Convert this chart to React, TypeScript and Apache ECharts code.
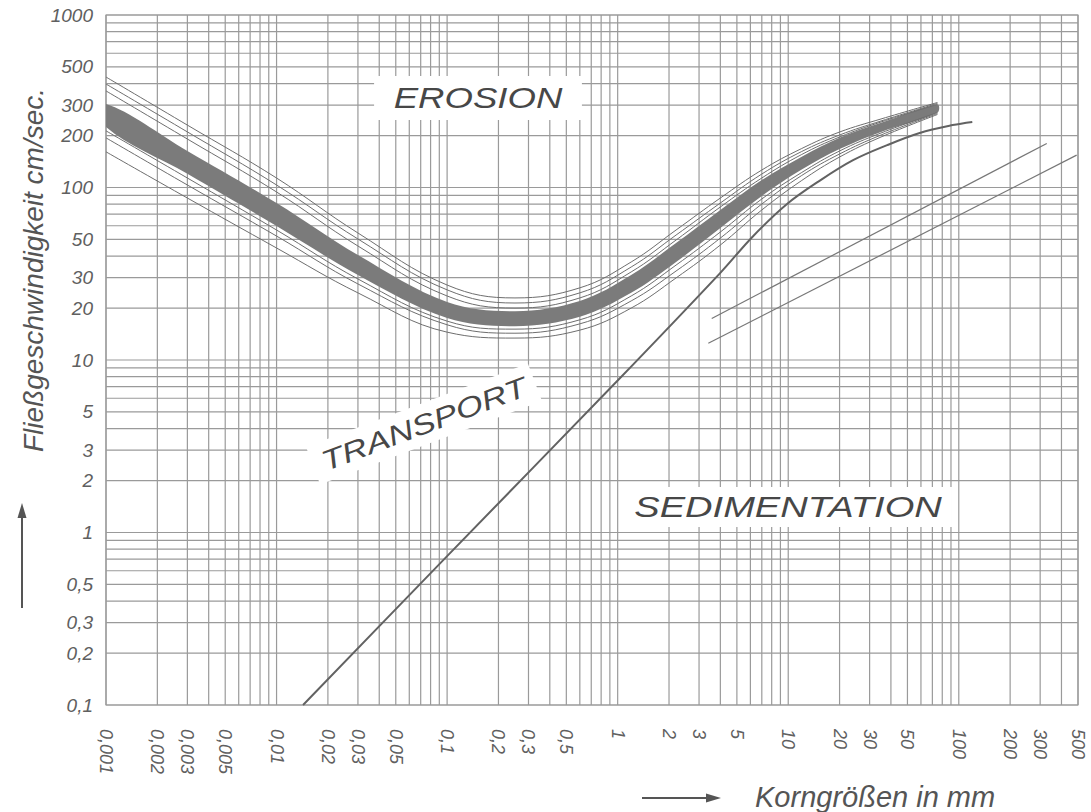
import React, { useEffect, useRef } from "react";
import * as echarts from "echarts";

// Axis extents (logarithmic, base 10)
const X_MIN = 0.001;
const X_MAX = 500;
const Y_MIN = 0.1;
const Y_MAX = 1000;

// Labelled ticks
const xTickValues = [0.001, 0.002, 0.003, 0.005, 0.01, 0.02, 0.03, 0.05, 0.1, 0.2, 0.3, 0.5, 1, 2, 3, 5, 10, 20, 30, 50, 100, 200, 300, 500];
const xTickLabels = ["0,001", "0,002", "0,003", "0,005", "0,01", "0,02", "0,03", "0,05", "0,1", "0,2", "0,3", "0,5", "1", "2", "3", "5", "10", "20", "30", "50", "100", "200", "300", "500"];
const yTickValues = [0.1, 0.2, 0.3, 0.5, 1, 2, 3, 5, 10, 20, 30, 50, 100, 200, 300, 500, 1000];
const yTickLabels = ["0,1", "0,2", "0,3", "0,5", "1", "2", "3", "5", "10", "20", "30", "50", "100", "200", "300", "500", "1000"];

// Log-paper grid lines (1..9 of every decade)
const xGridLines = [
  0.001, 0.002, 0.003, 0.004, 0.005, 0.006, 0.007, 0.008, 0.009,
  0.01, 0.02, 0.03, 0.04, 0.05, 0.06, 0.07, 0.08, 0.09,
  0.1, 0.2, 0.3, 0.4, 0.5, 0.6, 0.7, 0.8, 0.9,
  1, 2, 3, 4, 5, 6, 7, 8, 9,
  10, 20, 30, 40, 50, 60, 70, 80, 90,
  100, 200, 300, 400, 500,
];
const yGridLines = [
  0.1, 0.2, 0.3, 0.4, 0.5, 0.6, 0.7, 0.8, 0.9,
  1, 2, 3, 4, 5, 6, 7, 8, 9,
  10, 20, 30, 40, 50, 60, 70, 80, 90,
  100, 200, 300, 400, 500, 600, 700, 800, 900,
  1000,
];

// Erosion band: grain size (mm) with upper / lower flow velocity (cm/s)
const bandX = [0.001, 0.003, 0.01, 0.03, 0.1, 0.25, 0.6, 1.2, 2.2, 4, 7, 12, 20, 35, 75];
const bandUpper = [305, 163, 81.3, 40.6, 21.7, 19.2, 22.0, 31.1, 47.7, 74.1, 110.5, 151, 194, 237, 303];
const bandLower = [224, 120, 59.8, 31.1, 17.5, 15.7, 17.8, 24.5, 37.0, 58.2, 89.3, 127, 167, 210, 272];

// Thin curves accompanying the erosion band (same grain sizes as bandX)
const upperCurve1 = [437, 230, 113.5, 54.5, 27.2, 22.9, 26.2, 37.0, 56.7, 86.9, 126.3, 168.3, 209.7, 249.6, 311];
const upperCurve2 = [398, 210, 103.4, 50.3, 25.5, 21.4, 24.5, 34.6, 53.0, 81.3, 119.7, 161.7, 201.5, 243, 307];
const upperCurve3 = [363, 191, 94.2, 45.8, 23.5, 20.0, 22.9, 32.4, 49.6, 77.1, 113.5, 155.4, 196.2, 239.7, 303];
const lowerCurve1 = [213, 113.5, 56.7, 29.5, 16.8, 15.1, 17.1, 23.5, 35.5, 55.2, 85.8, 122.2, 162.8, 207, 272];
const lowerCurve2 = [194, 103.4, 52.3, 27.6, 16.0, 14.3, 16.2, 22.0, 32.8, 50.9, 80.2, 117.4, 156.4, 201.5, 268.5];
const lowerCurve3 = [161, 86.9, 44.6, 24.5, 14.5, 13.4, 14.9, 20.0, 29.9, 46.4, 74.1, 109.8, 150.2, 196.2, 265];

// Transport / sedimentation boundary
const settleX = [0.0143, 0.1, 1, 4, 6.2, 9.8, 15.4, 24, 38, 59, 92, 120];
const settleY = [0.1, 0.73, 7.6, 32, 52, 80, 110, 144, 176, 207, 230, 240];

// Two straight lines in the coarse range
const coarseLineA = [[3.56, 17.4], [328, 180]];
const coarseLineB = [[3.4, 12.5], [491, 154]];

const FONT = '"Liberation Sans", Arial, Helvetica, sans-serif';
const GRID_COLOR = "#9a9a9a";
const INK = "#474747";

function thinSeries(name: string, values: number[]) {
  return {
    name,
    type: "line",
    z: 9,
    silent: true,
    smooth: 0.4,
    symbol: "none",
    lineStyle: { color: "#6e6e6e", width: 1 },
    data: bandX.map((x, i) => [x, values[i]]),
  };
}

export default function App() {
  const ref = useRef<HTMLDivElement>(null);

  useEffect(() => {
    if (!ref.current) return;
    const chart = echarts.init(ref.current, undefined, { renderer: "svg" });

    const option: any = {
      animation: false,
      backgroundColor: "#ffffff",
      grid: {
        left: 106,
        right: 13,
        top: 15,
        bottom: 107,
        show: true,
        borderColor: GRID_COLOR,
        borderWidth: 1.2,
        backgroundColor: "transparent",
      },
      xAxis: {
        type: "log",
        logBase: 10,
        min: X_MIN,
        max: X_MAX,
        axisLine: { show: false },
        axisTick: { show: false },
        axisLabel: { show: false },
        splitLine: { show: false },
      },
      yAxis: {
        type: "log",
        logBase: 10,
        min: Y_MIN,
        max: Y_MAX,
        axisLine: { show: false },
        axisTick: { show: false },
        axisLabel: { show: false },
        splitLine: { show: false },
      },
      graphic: [
        {
          type: "text",
          x: 478,
          y: 98,
          z: 5,
          scaleX: 1.22,
          style: {
            text: "EROSION",
            font: `italic 30px ${FONT}`,
            fill: INK,
            align: "center",
            verticalAlign: "middle",
            backgroundColor: "#ffffff",
            padding: [7, 16],
          },
        },
        {
          type: "text",
          x: 424,
          y: 424,
          z: 5,
          rotation: 0.36,
          scaleX: 1.26,
          style: {
            text: "TRANSPORT",
            font: `italic 28px ${FONT}`,
            fill: INK,
            align: "center",
            verticalAlign: "middle",
            backgroundColor: "#ffffff",
            padding: [6, 8],
          },
        },
        {
          type: "text",
          x: 788,
          y: 507,
          z: 5,
          scaleX: 1.27,
          style: {
            text: "SEDIMENTATION",
            font: `italic 30px ${FONT}`,
            fill: INK,
            align: "center",
            verticalAlign: "middle",
            backgroundColor: "#ffffff",
            padding: [5, 8],
          },
        },
        {
          type: "text",
          x: 33,
          y: 270,
          rotation: Math.PI / 2,
          style: {
            text: "Fließgeschwindigkeit cm/sec.",
            font: `italic 28px ${FONT}`,
            fill: "#555555",
            align: "center",
            verticalAlign: "middle",
          },
        },
        {
          type: "line",
          shape: { x1: 22, y1: 608, x2: 22, y2: 516 },
          style: { stroke: "#555555", lineWidth: 2 },
        },
        {
          type: "polygon",
          shape: { points: [[22, 503], [17.5, 518], [26.5, 518]] },
          style: { fill: "#555555" },
        },
        {
          type: "text",
          x: 755,
          y: 797,
          style: {
            text: "Korngrößen in mm",
            font: `italic 29px ${FONT}`,
            fill: "#555555",
            align: "left",
            verticalAlign: "middle",
          },
        },
        {
          type: "line",
          shape: { x1: 642, y1: 798, x2: 708, y2: 798 },
          style: { stroke: "#555555", lineWidth: 2 },
        },
        {
          type: "polygon",
          shape: { points: [[721, 798], [706, 793.5], [706, 802.5]] },
          style: { fill: "#555555" },
        },
      ],
      series: [
        {
          name: "xGrid",
          type: "custom",
          z: 1,
          silent: true,
          data: xGridLines.map((v) => [v, Y_MIN]),
          renderItem: (_p: any, api: any) => {
            const v = api.value(0);
            const a = api.coord([v, Y_MIN]);
            const b = api.coord([v, Y_MAX]);
            return {
              type: "line",
              shape: { x1: a[0], y1: a[1], x2: b[0], y2: b[1] },
              style: { stroke: GRID_COLOR, lineWidth: 1.2 },
            };
          },
        },
        {
          name: "yGrid",
          type: "custom",
          z: 1,
          silent: true,
          data: yGridLines.map((v) => [X_MIN, v]),
          renderItem: (_p: any, api: any) => {
            const v = api.value(1);
            const a = api.coord([X_MIN, v]);
            const b = api.coord([X_MAX, v]);
            return {
              type: "line",
              shape: { x1: a[0], y1: a[1], x2: b[0], y2: b[1] },
              style: { stroke: GRID_COLOR, lineWidth: 1.2 },
            };
          },
        },
        {
          name: "xLabels",
          type: "custom",
          z: 2,
          silent: true,
          clip: false,
          data: xTickValues.map((v) => [v, Y_MIN]),
          renderItem: (p: any, api: any) => {
            const pt = api.coord([api.value(0), Y_MIN]);
            return {
              type: "text",
              x: pt[0],
              y: pt[1] + 24,
              rotation: -Math.PI / 2,
              style: {
                text: xTickLabels[p.dataIndex],
                font: `italic 18px ${FONT}`,
                fill: "#606060",
                align: "left",
                verticalAlign: "middle",
              },
            };
          },
        },
        {
          name: "yLabels",
          type: "custom",
          z: 2,
          silent: true,
          clip: false,
          data: yTickValues.map((v) => [X_MIN, v]),
          renderItem: (p: any, api: any) => {
            const pt = api.coord([X_MIN, api.value(1)]);
            return {
              type: "text",
              x: pt[0] - 13,
              y: pt[1],
              style: {
                text: yTickLabels[p.dataIndex],
                font: `italic 19px ${FONT}`,
                fill: "#606060",
                align: "right",
                verticalAlign: "middle",
              },
            };
          },
        },
        {
          name: "erosionBand",
          type: "custom",
          z: 8,
          silent: true,
          clip: true,
          data: [[bandX[0], bandUpper[0]]],
          renderItem: (_p: any, api: any) => {
            const top = bandX.map((x, i) => api.coord([x, bandUpper[i]]));
            const bottom = bandX.map((x, i) => api.coord([x, bandLower[i]])).reverse();
            return {
              type: "polygon",
              shape: { points: top.concat(bottom), smooth: 0.35 },
              style: { fill: "#7b7b7b" },
            };
          },
        },
        thinSeries("upper1", upperCurve1),
        thinSeries("upper2", upperCurve2),
        thinSeries("upper3", upperCurve3),
        thinSeries("lower1", lowerCurve1),
        thinSeries("lower2", lowerCurve2),
        thinSeries("lower3", lowerCurve3),
        {
          name: "settling",
          type: "line",
          z: 9,
          silent: true,
          smooth: 0.35,
          symbol: "none",
          lineStyle: { color: "#626262", width: 2 },
          data: settleX.map((x, i) => [x, settleY[i]]),
        },
        {
          name: "coarseA",
          type: "line",
          z: 9,
          silent: true,
          symbol: "none",
          lineStyle: { color: "#777777", width: 1.2 },
          data: coarseLineA,
        },
        {
          name: "coarseB",
          type: "line",
          z: 9,
          silent: true,
          symbol: "none",
          lineStyle: { color: "#777777", width: 1.2 },
          data: coarseLineB,
        },
      ],
    };

    chart.setOption(option);
    return () => chart.dispose();
  }, []);

  return (
    <div
      ref={ref}
      style={{ position: "absolute", left: 0, top: 0, width: 1091, height: 812, background: "#ffffff" }}
    />
  );
}
